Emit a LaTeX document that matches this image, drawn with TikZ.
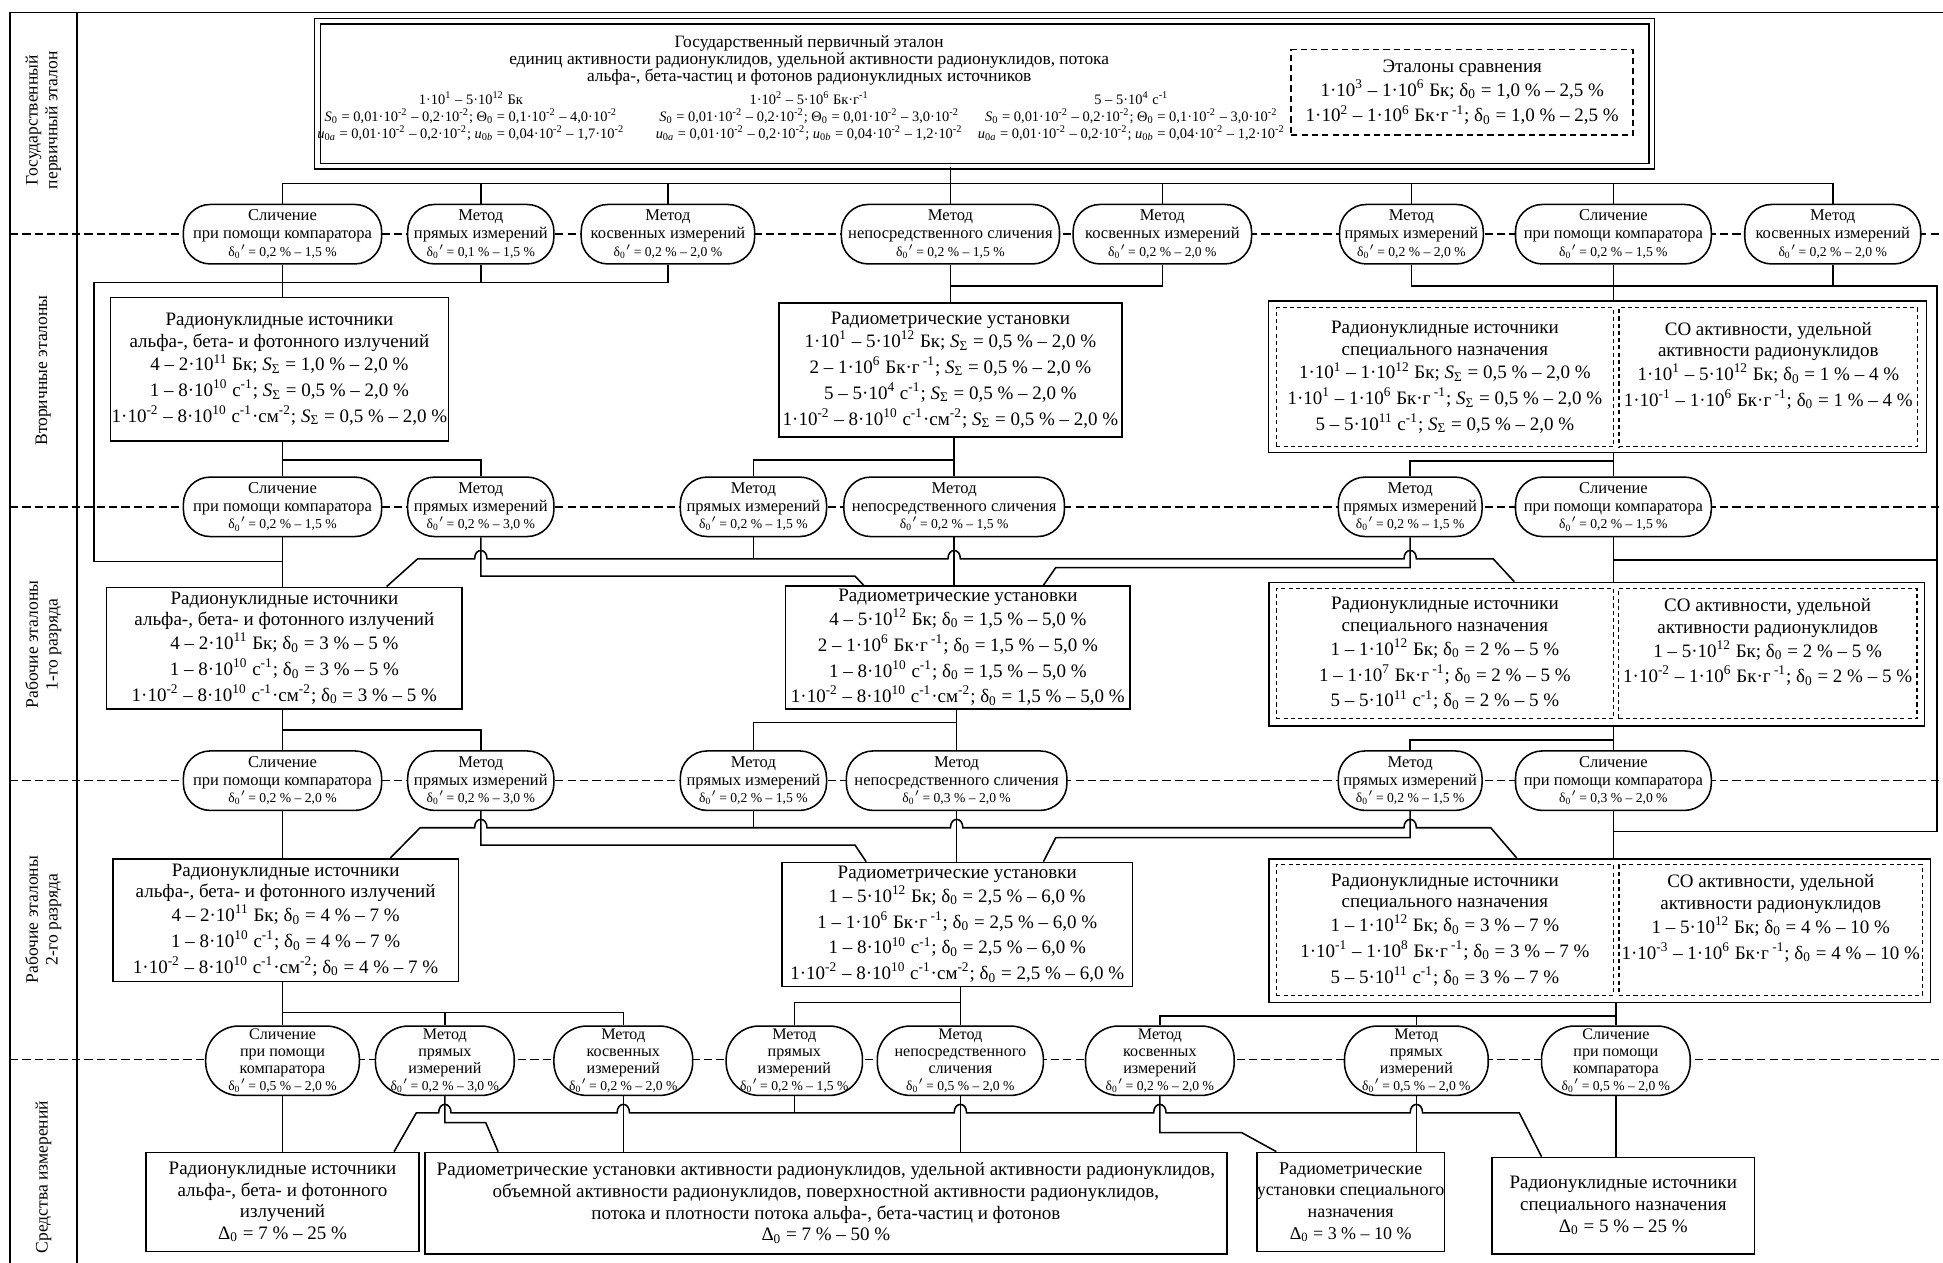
\documentclass[tikz,border=0pt]{standalone}
\usepackage{fontspec}
\setmainfont{Liberation Serif}
\usetikzlibrary{calc,positioning}

\newcommand\dz{δ\textsubscript{0}}
\newcommand\Ss{\textit{S}\textsubscript{Σ}}
\newcommand\tp[1]{10\textsuperscript{#1}}
\newcommand\dl[1]{{\fontsize{6.6}{8.6}\selectfont\dz$'$\,= #1}}
\newcommand\hump[2]{-- (#1-5,#2) .. controls (#1-5,#2-9) and (#1+5,#2-9) .. (#1+5,#2)}

\tikzset{
  met/.style={draw, fill=white, rounded corners=13pt, minimum width=#1*0.6pt, minimum height=28.8pt, inner sep=0pt, align=center, font=\fontsize{8}{8.6}\selectfont},
  met5/.style={met=#1, minimum height=33.6pt, rounded corners=16pt, font=\fontsize{7.8}{8.3}\selectfont},
  box/.style 2 args={draw, fill=white, minimum width=#1*0.6pt, minimum height=#2*0.6pt, inner sep=0pt, align=center, font=\fontsize{9.2}{10.5}\selectfont},
  dbox/.style 2 args={box={#1}{#2}, dash pattern=on 2pt off 1.5pt, line width=0.5pt},
  lbl/.style={rotate=90, align=center, font=\fontsize{8.5}{9.5}\selectfont},
  sep/.style={dash pattern=on 4pt off 2pt},
}

\begin{document}
\begin{tikzpicture}[x=0.6pt, y=-0.6pt, line width=0.75pt]
\useasboundingbox (0,0) rectangle (1568,1019);

% frame and levels
\draw (8,10) -- (1568,10);
\draw (8,10) -- (8,1019);
\draw (62,10) -- (62,1019);
\foreach \yy in {189,409,630,855}{\draw[sep] (8,\yy) -- (1568,\yy);}

\node[lbl] (l1) at (35,97) {Государственный\\первичный эталон};
\node[lbl] (l2) at (35,299) {Вторичные эталоны};
\node[lbl] (l3) at (35,520) {Рабочие эталоны\\1-го разряда};
\node[lbl] (l4) at (35,742) {Рабочие эталоны\\2-го разряда};
\node[lbl] (l5) at (35,950) {Средства измерений};

% primary standard
\node[draw, double, double distance=2.2pt, line width=0.6pt, minimum width=1077*0.6pt, minimum height=117*0.6pt] (prim) at (794.5,75.5) {};
\node[align=center, font=\fontsize{8.4}{8.2}\selectfont] (ptitle) at (653,49) {Государственный первичный эталон\\единиц активности радионуклидов, удельной активности радионуклидов, потока\\альфа-, бета-частиц и фотонов радионуклидных источников};
\node[align=center, font=\fontsize{7}{8.2}\selectfont] (pc1) at (380,94) {1·\tp{1} – 5·\tp{12} Бк\\\textit{S}\textsubscript{0} = 0,01·\tp{-2} – 0,2·\tp{-2}; Θ\textsubscript{0} = 0,1·\tp{-2} – 4,0·\tp{-2}\\\textit{u}\textsubscript{0\textit{a}} = 0,01·\tp{-2} – 0,2·\tp{-2}; \textit{u}\textsubscript{0\textit{b}} = 0,04·\tp{-2} – 1,7·\tp{-2}};
\node[align=center, font=\fontsize{7}{8.2}\selectfont] (pc2) at (653,94) {1·\tp{2} – 5·\tp{6} Бк·г\textsuperscript{-1}\\\textit{S}\textsubscript{0} = 0,01·\tp{-2} – 0,2·\tp{-2}; Θ\textsubscript{0} = 0,01·\tp{-2} – 3,0·\tp{-2}\\\textit{u}\textsubscript{0\textit{a}} = 0,01·\tp{-2} – 0,2·\tp{-2}; \textit{u}\textsubscript{0\textit{b}} = 0,04·\tp{-2} – 1,2·\tp{-2}};
\node[align=center, font=\fontsize{7}{8.2}\selectfont] (pc3) at (913,94) {5 – 5·\tp{4} с\textsuperscript{-1}\\\textit{S}\textsubscript{0} = 0,01·\tp{-2} – 0,2·\tp{-2}; Θ\textsubscript{0} = 0,1·\tp{-2} – 3,0·\tp{-2}\\\textit{u}\textsubscript{0\textit{a}} = 0,01·\tp{-2} – 0,2·\tp{-2}; \textit{u}\textsubscript{0\textit{b}} = 0,04·\tp{-2} – 1,2·\tp{-2}};
\node[box={276}{69}, dash pattern=on 3pt off 2pt] (cmp) at (1180,74.5) {Эталоны сравнения\\[1pt]1·\tp{3} – 1·\tp{6} Бк; \dz{} = 1,0~\% – 2,5~\%\\[2pt]1·\tp{2} – 1·\tp{6} Бк·г\textsuperscript{ -1}; \dz{} = 1,0~\% – 2,5~\%};

% secondary standards
\node[met=160] (m21) at (228,189) {Сличение\\при помощи компаратора\\\dl{0,2~\% – 1,5~\%}};
\node[met=118] (m22) at (388,189) {Метод\\прямых измерений\\\dl{0,1~\% – 1,5~\%}};
\node[met=140] (m23) at (539,189) {Метод\\косвенных измерений\\\dl{0,2~\% – 2,0~\%}};
\node[met=176] (m24) at (767,189) {Метод\\непосредственного сличения\\\dl{0,2~\% – 1,5~\%}};
\node[met=144] (m25) at (938,189) {Метод\\косвенных измерений\\\dl{0,2~\% – 2,0~\%}};
\node[met=116] (m26) at (1139,189) {Метод\\прямых измерений\\\dl{0,2~\% – 2,0~\%}};
\node[met=158] (m27) at (1302,189) {Сличение\\при помощи компаратора\\\dl{0,2~\% – 1,5~\%}};
\node[met=142] (m28) at (1479,189) {Метод\\косвенных измерений\\\dl{0,2~\% – 2,0~\%}};

\node[box={273}{116}] (s2a) at (225.5,298) {Радионуклидные источники\\альфа-, бета- и фотонного излучений\\[1pt]4 – 2·\tp{11} Бк; \Ss{} = 1,0~\% – 2,0~\%\\[2pt]1 – 8·\tp{10} с\textsuperscript{-1}; \Ss{} = 0,5~\% – 2,0~\%\\[2pt]1·\tp{-2} – 8·\tp{10} с\textsuperscript{-1}·см\textsuperscript{-2}; \Ss{} = 0,5~\% – 2,0~\%};
\node[box={277}{108}] (s2b) at (767,298.5) {Радиометрические установки\\[1pt]1·\tp{1} – 5·\tp{12} Бк; \Ss{} = 0,5~\% – 2,0~\%\\[2pt]2 – 1·\tp{6} Бк·г\textsuperscript{ -1}; \Ss{} = 0,5~\% – 2,0~\%\\[2pt]5 – 5·\tp{4} с\textsuperscript{-1}; \Ss{} = 0,5~\% – 2,0~\%\\[2pt]1·\tp{-2} – 8·\tp{10} с\textsuperscript{-1}·см\textsuperscript{-2}; \Ss{} = 0,5~\% – 2,0~\%};
\node[box={531}{122}] (s2c) at (1289,304) {};
\node[dbox={272}{112}] (s2cl) at (1166,304.5) {Радионуклидные источники\\специального назначения\\[1pt]1·\tp{1} – 1·\tp{12} Бк; \Ss{} = 0,5~\% – 2,0~\%\\[2pt]1·\tp{1} – 1·\tp{6} Бк·г\textsuperscript{ -1}; \Ss{} = 0,5~\% – 2,0~\%\\[2pt]5 – 5·\tp{11} с\textsuperscript{-1}; \Ss{} = 0,5~\% – 2,0~\%};
\node[dbox={241}{112}] (s2cr) at (1427,304.5) {СО активности, удельной\\активности радионуклидов\\[1pt]1·\tp{1} – 5·\tp{12} Бк; \dz{} = 1~\% – 4~\%\\[2pt]1·\tp{-1} – 1·\tp{6} Бк·г\textsuperscript{ -1}; \dz{} = 1~\% – 4~\%\\[2pt]\mbox{}};

% working standards, 1st grade
\node[met=160] (m31) at (228,409) {Сличение\\при помощи компаратора\\\dl{0,2~\% – 1,5~\%}};
\node[met=118] (m32) at (388,409) {Метод\\прямых измерений\\\dl{0,2~\% – 3,0~\%}};
\node[met=118] (m33) at (608,409) {Метод\\прямых измерений\\\dl{0,2~\% – 1,5~\%}};
\node[met=178] (m34) at (770,409) {Метод\\непосредственного сличения\\\dl{0,2~\% – 1,5~\%}};
\node[met=116] (m35) at (1138,409) {Метод\\прямых измерений\\\dl{0,2~\% – 1,5~\%}};
\node[met=158] (m36) at (1302,409) {Сличение\\при помощи компаратора\\\dl{0,2~\% – 1,5~\%}};

\node[box={287}{98}] (s3a) at (229.5,523) {Радионуклидные источники\\альфа-, бета- и фотонного излучений\\[1pt]4 – 2·\tp{11} Бк; \dz{} = 3~\% – 5~\%\\[2pt]1 – 8·\tp{10} с\textsuperscript{-1}; \dz{} = 3~\% – 5~\%\\[2pt]1·\tp{-2} – 8·\tp{10} с\textsuperscript{-1}·см\textsuperscript{-2}; \dz{} = 3~\% – 5~\%};
\node[box={278}{99}] (s3b) at (773,522.5) {Радиометрические установки\\[1pt]4 – 5·\tp{12} Бк; \dz{} = 1,5~\% – 5,0~\%\\[2pt]2 – 1·\tp{6} Бк·г\textsuperscript{ -1}; \dz{} = 1,5~\% – 5,0~\%\\[2pt]1 – 8·\tp{10} с\textsuperscript{-1}; \dz{} = 1,5~\% – 5,0~\%\\[2pt]1·\tp{-2} – 8·\tp{10} с\textsuperscript{-1}·см\textsuperscript{-2}; \dz{} = 1,5~\% – 5,0~\%};
\node[box={529}{116}] (s3c) at (1288.5,528) {};
\node[dbox={272}{105}] (s3cl) at (1166,527.5) {Радионуклидные источники\\специального назначения\\[1pt]1 – 1·\tp{12} Бк; \dz{} = 2~\% – 5~\%\\[2pt]1 – 1·\tp{7} Бк·г\textsuperscript{ -1}; \dz{} = 2~\% – 5~\%\\[2pt]5 – 5·\tp{11} с\textsuperscript{-1}; \dz{} = 2~\% – 5~\%};
\node[dbox={241}{105}] (s3cr) at (1426.5,527.5) {СО активности, удельной\\активности радионуклидов\\[1pt]1 – 5·\tp{12} Бк; \dz{} = 2~\% – 5~\%\\[2pt]1·\tp{-2} – 1·\tp{6} Бк·г\textsuperscript{ -1}; \dz{} = 2~\% – 5~\%\\[2pt]\mbox{}};

% working standards, 2nd grade
\node[met=160] (m41) at (228,630) {Сличение\\при помощи компаратора\\\dl{0,2~\% – 2,0~\%}};
\node[met=118] (m42) at (388,630) {Метод\\прямых измерений\\\dl{0,2~\% – 3,0~\%}};
\node[met=118] (m43) at (608,630) {Метод\\прямых измерений\\\dl{0,2~\% – 1,5~\%}};
\node[met=178] (m44) at (772,630) {Метод\\непосредственного сличения\\\dl{0,3~\% – 2,0~\%}};
\node[met=116] (m45) at (1138,630) {Метод\\прямых измерений\\\dl{0,2~\% – 1,5~\%}};
\node[met=158] (m46) at (1302,630) {Сличение\\при помощи компаратора\\\dl{0,3~\% – 2,0~\%}};

\node[box={279}{99}] (s4a) at (230.5,742.5) {Радионуклидные источники\\альфа-, бета- и фотонного излучений\\[1pt]4 – 2·\tp{11} Бк; \dz{} = 4~\% – 7~\%\\[2pt]1 – 8·\tp{10} с\textsuperscript{-1}; \dz{} = 4~\% – 7~\%\\[2pt]1·\tp{-2} – 8·\tp{10} с\textsuperscript{-1}·см\textsuperscript{-2}; \dz{} = 4~\% – 7~\%};
\node[box={283}{100}] (s4b) at (772.5,746) {Радиометрические установки\\[1pt]1 – 5·\tp{12} Бк; \dz{} = 2,5~\% – 6,0~\%\\[2pt]1 – 1·\tp{6} Бк·г\textsuperscript{ -1}; \dz{} = 2,5~\% – 6,0~\%\\[2pt]1 – 8·\tp{10} с\textsuperscript{-1}; \dz{} = 2,5~\% – 6,0~\%\\[2pt]1·\tp{-2} – 8·\tp{10} с\textsuperscript{-1}·см\textsuperscript{-2}; \dz{} = 2,5~\% – 6,0~\%};
\node[box={534}{116}] (s4c) at (1291,751) {};
\node[dbox={272}{105}] (s4cl) at (1166,750.5) {Радионуклидные источники\\специального назначения\\[1pt]1 – 1·\tp{12} Бк; \dz{} = 3~\% – 7~\%\\[2pt]1·\tp{-1} – 1·\tp{8} Бк·г\textsuperscript{ -1}; \dz{} = 3~\% – 7~\%\\[2pt]5 – 5·\tp{11} с\textsuperscript{-1}; \dz{} = 3~\% – 7~\%};
\node[dbox={245}{105}] (s4cr) at (1429,750.5) {СО активности, удельной\\активности радионуклидов\\[1pt]1 – 5·\tp{12} Бк; \dz{} = 4~\% – 10~\%\\[2pt]1·\tp{-3} – 1·\tp{6} Бк·г\textsuperscript{ -1}; \dz{} = 4~\% – 10~\%\\[2pt]\mbox{}};

% measuring instruments
\node[met5=124] (m51) at (228,856) {Сличение\\при помощи\\компаратора\\\dl{0,5~\% – 2,0~\%}};
\node[met5=112] (m52) at (359,856) {Метод\\прямых\\измерений\\\dl{0,2~\% – 3,0~\%}};
\node[met5=112] (m53) at (503,856) {Метод\\косвенных\\измерений\\\dl{0,2~\% – 2,0~\%}};
\node[met5=110] (m54) at (641,856) {Метод\\прямых\\измерений\\\dl{0,2~\% – 1,5~\%}};
\node[met5=134] (m55) at (775,856) {Метод\\непосредственного\\сличения\\\dl{0,5~\% – 2,0~\%}};
\node[met5=120] (m56) at (936,856) {Метод\\косвенных\\измерений\\\dl{0,2~\% – 2,0~\%}};
\node[met5=116] (m57) at (1143,856) {Метод\\прямых\\измерений\\\dl{0,5~\% – 2,0~\%}};
\node[met5=120] (m58) at (1304,856) {Сличение\\при помощи\\компаратора\\\dl{0,5~\% – 2,0~\%}};

\node[box={220}{80}] (d1) at (228,970) {Радионуклидные источники\\альфа-, бета- и фотонного\\излучений\\Δ\textsubscript{0} = 7~\% – 25~\%};
\node[box={647}{82}] (d2) at (666.5,971) {Радиометрические установки активности радионуклидов, удельной активности радионуклидов,\\объемной активности радионуклидов, поверхностной активности радионуклидов,\\потока и плотности потока альфа-, бета-частиц и фотонов\\Δ\textsubscript{0} = 7~\% – 50~\%};
\node[box={148}{80}, font=\fontsize{8.7}{10.5}\selectfont] (d3) at (1090,970) {Радиометрические\\установки специального\\назначения\\Δ\textsubscript{0} = 3~\% – 10~\%};
\node[box={212}{78}] (d4) at (1310,973) {Радионуклидные источники\\специального назначения\\Δ\textsubscript{0} = 5~\% – 25~\%};

% links: primary -> secondary
\draw (prim.south -| m24) -- (m24.north);
\draw (m21.north) |- (m28.north |- 0,148) -- (m28.north);
\foreach \n in {m22,m23,m25,m26,m27}{\draw (\n.north) -- (\n.north |- 0,148);}
\draw (m21.south) -- (m21.south |- s2a.north);
\draw (m22.south) -- (m22.south |- 0,228);
\draw (m23.south) |- (76,228) -- (76,453) -- (m31.south |- 0,453);
\draw (m24.south) -- (m24.south |- s2b.north);
\draw (m25.south) |- (m24.south |- 0,231);
\draw (m27.south) -- (m27.south |- s2c.north);
\draw (m28.south) -- (m28.south |- 0,231);
\draw (m26.south) |- (1563,231) -- (1563,671) -- (m46.south |- 0,671);
\draw (1563,452) -- (m36.south |- 0,452);

% secondary -> 1st grade
\draw (m31.north |- s2a.south) -- (m31.north);
\draw (m31.north |- 0,371) -| (m32.north);
\draw (m34.north |- s2b.south) -- (m34.north);
\draw (m34.north |- 0,371) -| (m33.north);
\draw (m36.north |- s2c.south) -- (m36.north);
\draw (m36.north |- 0,372) -| (m35.north);
\draw (m31.south) -- (m31.south |- s3a.north);
\draw (m34.south) -- (m34.south |- s3b.north);
\draw (m36.south) -- (m36.south |- s3c.north);
\draw (m32.south) |- (690,465) -- (697,0 |- s3b.north);
\draw (m35.south) |- (852,458) -- (842,0 |- s3b.north);
\draw (312,0 |- s3a.north) -- (337,451) \hump{388}{451} \hump{770}{451} \hump{1138}{451} -- (1205,451) -- (1222,0 |- s3c.north);
\draw (m33.south) -- (m33.south |- 0,451);

% 1st grade -> 2nd grade
\draw (m41.north |- s3a.south) -- (m41.north);
\draw (m41.north |- 0,589) -| (m42.north);
\draw (m44.north |- s3b.south) -- (m44.north);
\draw (m44.north |- 0,583) -| (m43.north);
\draw (m46.north |- s3c.south) -- (m46.north);
\draw (m46.north |- 0,597) -| (m45.north);
\draw (m41.south) -- (m41.south |- s4a.north);
\draw (m44.south) -- (m44.south |- s4b.north);
\draw (m46.south) -- (m46.south |- s4c.north);
\draw (m42.south) |- (690,682) -- (699,0 |- s4b.north);
\draw (m45.south) |- (852,676) -- (842,0 |- s4b.north);
\draw (315,0 |- s4a.north) -- (339,668) \hump{388}{668} \hump{772}{668} \hump{1138}{668} -- (1203,668) -- (1224,0 |- s4c.north);
\draw (m43.south) -- (m43.south |- 0,668);

% 2nd grade -> instruments
\draw (m51.north |- s4a.south) -- (m51.north);
\draw (m51.north |- 0,817) -| (m53.north);
\draw (m52.north) -- (m52.north |- 0,817);
\draw (m55.north |- s4b.south) -- (m55.north);
\draw (m55.north |- 0,809) -| (m54.north);
\draw (m58.north |- s4c.south) -- (m58.north);
\draw (m58.north |- 0,820) -| (m56.north);
\draw (m57.north) -- (m57.north |- 0,820);
\draw (m51.south) -- (m51.south |- d1.north);
\draw (m52.south) |- (392,906) -- (402,0 |- d2.north);
\draw (m53.south) -- (m53.south |- d2.north);
\draw (m55.south) -- (m55.south |- d2.north);
\draw (m56.south) |- (1002,914) -- (1030,0 |- d3.north);
\draw (m57.south) -- (m57.south |- d3.north);
\draw (m58.south) -- (m58.south |- d4.north);
\draw (318,0 |- d1.north) -- (336,898) \hump{359}{898} \hump{503}{898} \hump{775}{898} \hump{936}{898} \hump{1143}{898} -- (1226,898) -- (1244,0 |- d4.north);
\draw (m54.south) -- (m54.south |- 0,898);
\end{tikzpicture}
\end{document}
